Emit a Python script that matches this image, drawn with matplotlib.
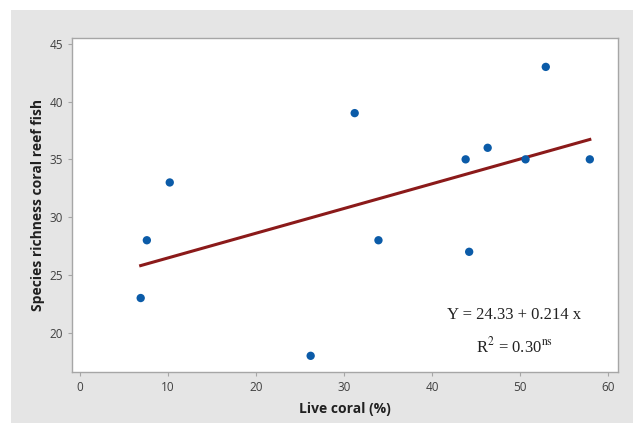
"""Scatter of reef fish species richness against live coral cover."""

import matplotlib
matplotlib.use("Agg")
import matplotlib.pyplot as plt
import matplotlib.patches as patches
import numpy as np

# Data
live_coral = [6.9, 7.6, 10.2, 26.2, 31.2, 33.9, 43.8, 44.2, 46.3, 50.6, 52.9, 57.9]
richness = [23, 28, 33, 18, 39, 28, 35, 27, 36, 35, 43, 35]
intercept = 24.33
slope = 0.214
x_ticks = [0, 10, 20, 30, 40, 50, 60]
y_ticks = [20, 25, 30, 35, 40, 45]

plt.rcParams['font.family'] = ['Open Sans', 'DejaVu Sans']
plt.rcParams['mathtext.fontset'] = 'stix'

fig = plt.figure(figsize=(6.33, 4.23), dpi=100, facecolor='white')
# gray panel behind the plot (white strip on top and left)
fig.patches.append(patches.Rectangle((11 / 633, 0), 1, 1 - 10 / 423,
                                     transform=fig.transFigure,
                                     facecolor='#e5e5e5', edgecolor='none',
                                     zorder=-10))

ax = fig.add_axes([72 / 633, 1 - 372 / 423, 546 / 633, 334 / 423])
ax.set_facecolor('white')

ax.scatter(live_coral, richness, s=36, color='#0b5ba8', zorder=3,
           edgecolors='none')

x_fit = np.array([min(live_coral), max(live_coral)])
ax.plot(x_fit, intercept + slope * x_fit, color='#8b1a1a', linewidth=2.2,
        zorder=2)

ax.set_xlim(-0.9, 61.1)
ax.set_ylim(16.6, 45.5)
ax.set_xticks(x_ticks)
ax.set_yticks(y_ticks)

for side in ax.spines.values():
    side.set_color('#a6a6a6')
    side.set_linewidth(1.0)
ax.tick_params(colors='#a6a6a6', labelcolor='#404040', labelsize=8.5,
               length=3, width=0.8)

ax.set_xlabel('Live coral (%)', fontsize=10, fontweight='bold',
              color='#202020', labelpad=6)
ax.set_ylabel('Species richness coral reef fish', fontsize=10,
              fontweight='bold', color='#202020', labelpad=3)

ax.text(0.81, 0.17, 'Y = 24.33 + 0.214 x', transform=ax.transAxes,
        ha='center', va='center', fontsize=12,
        family=['Liberation Serif'], color='#222222')
ax.text(0.81, 0.077, r'R$^{2}$ = 0.30$^{\mathrm{ns}}$', transform=ax.transAxes,
        ha='center', va='center', fontsize=12,
        family=['Liberation Serif'], color='#222222')

plt.savefig('out.png', dpi=100, facecolor=fig.get_facecolor())
